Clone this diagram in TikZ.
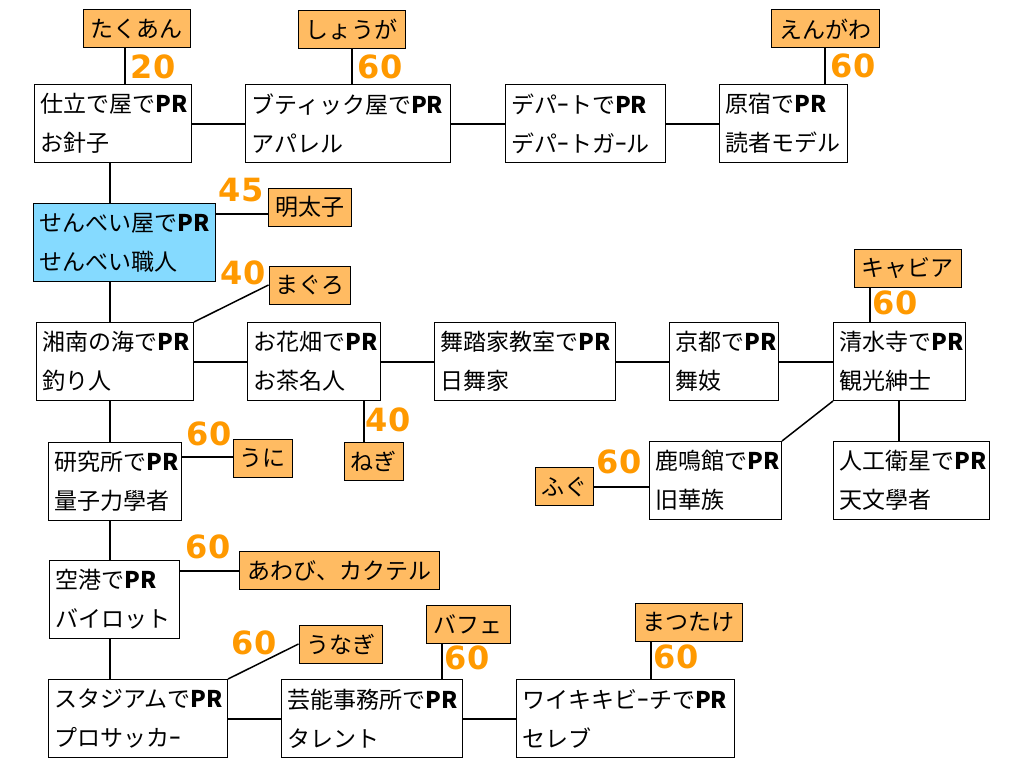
\documentclass[tikz,border=0pt]{standalone}
\usepackage{fontspec}
\setmainfont{Noto Sans CJK JP}
\newfontfamily\numfont{DejaVu Sans}
\usetikzlibrary{positioning}
\definecolor{foodorange}{RGB}{255,187,98}
\definecolor{numorange}{RGB}{255,153,0}
\definecolor{selfblue}{RGB}{133,218,255}
\newcommand\prmark{\textbf{PR}}

\begin{document}
\begin{tikzpicture}[x=1pt, y=-1pt, every node/.style={font=\fontsize{23}{39}\selectfont},
    job/.style={draw,line width=1pt,fill=white,anchor=north west,align=left,inner xsep=6pt,minimum height=78pt,text width=#1},
    food/.style={draw,line width=1pt,fill=foodorange,minimum height=38pt,minimum width=#1,inner xsep=6pt},
    num/.style={text=numorange,font=\numfont\bfseries\fontsize{32}{32}\selectfont},
    link/.style={line width=2pt}]
    \useasboundingbox (0,0) rectangle (1024,768);
    \node[job=145pt] (shitate) at (34,84) {仕立で屋で\prmark\\お針子};
    \node[job=193pt] (boutique) at (245,84) {ブティック屋で\prmark\\アパレル};
    \node[job=148pt] (depart) at (505,84) {デパｰトで\prmark\\デパｰトガｰル};
    \node[job=116pt] (harajuku) at (719,84) {原宿で\prmark\\読者モデル};
    \node[job=170pt,fill=selfblue] (senbei) at (33,203) {せんべい屋で\prmark\\せんべい職人};
    \node[job=145pt] (shonan) at (36,322) {湘南の海で\prmark\\釣り人};
    \node[job=121pt] (hanabatake) at (247,322) {お花畑で\prmark\\お茶名人};
    \node[job=169pt] (butoka) at (434,322) {舞踏家教室で\prmark\\日舞家};
    \node[job=97pt] (kyoto) at (669,322) {京都で\prmark\\舞妓};
    \node[job=120pt] (kiyomizu) at (833,322) {清水寺で\prmark\\観光紳士};
    \node[job=120pt] (rokumei) at (649,441) {鹿鳴館で\prmark\\旧華族};
    \node[job=144pt] (eisei) at (833,441) {人工衛星で\prmark\\天文學者};
    \node[job=121pt] (kenkyu) at (48,442) {研究所で\prmark\\量子力學者};
    \node[job=118pt] (kuko) at (49,560) {空港で\prmark\\バイロット};
    \node[job=167pt] (stadium) at (48,679) {スタジアムで\prmark\\プロサッカｰ};
    \node[job=169pt] (geino) at (281,679) {芸能事務所で\prmark\\タレント};
    \node[job=206pt] (waikiki) at (516,679) {ワイキキビｰチで\prmark\\セレブ};

    \node[food=107pt] (takuan) at (136.5,29) {たくあん};
    \node[food=107pt] (shoga) at (351.5,30) {しょうが};
    \node[food=108pt] (engawa) at (825,29) {えんがわ};
    \node[food=83pt] (mentaiko) at (309.5,207) {明太子};
    \node[food=81pt] (maguro) at (309.5,285) {まぐろ};
    \node[food=107pt] (caviar) at (907.5,268) {キャビア};
    \node[food=59pt] (uni) at (262.5,458) {うに};
    \node[food=59pt] (negi) at (373.5,461.5) {ねぎ};
    \node[food=58pt] (fugu) at (564,486.5) {ふぐ};
    \node[food=200pt] (awabi) at (339,570.5) {あわび、カクテル};
    \node[food=83pt] (unagi) at (340.5,644) {うなぎ};
    \node[food=84pt] (bafe) at (468,624) {バフェ};
    \node[food=107pt] (matsutake) at (688.5,622) {まつたけ};

    \node[num] (ntakuan) at (153,67) {20};
    \node[num] (nshoga) at (380,67) {60};
    \node[num] (nengawa) at (853,66) {60};
    \node[num] (nmentaiko) at (241,190) {45};
    \node[num] (nmaguro) at (243,273) {40};
    \node[num] (ncaviar) at (895,303) {60};
    \node[num] (nuni) at (209,434) {60};
    \node[num] (nnegi) at (388,420) {40};
    \node[num] (nfugu) at (619,462) {60};
    \node[num] (nawabi) at (208,547) {60};
    \node[num] (nunagi) at (254,643) {60};
    \node[num] (nbafe) at (467,658) {60};
    \node[num] (nmatsutake) at (676,657) {60};

    \foreach \a/\b/\x in {takuan/shitate/125,shoga/boutique/352,engawa/harajuku/825,shitate/senbei/110,senbei/shonan/110,shonan/kenkyu/110,kenkyu/kuko/110,kuko/stadium/110,hanabatake/negi/364,caviar/kiyomizu/870,kiyomizu/eisei/899,bafe/geino/442,matsutake/waikiki/651}
      \draw[link] (\a.south -| \x,0) -- (\b.north -| \x,0);
    \foreach \a/\b in {shitate/boutique,boutique/depart,depart/harajuku,shonan/hanabatake,hanabatake/butoka,butoka/kyoto,kyoto/kiyomizu,stadium/geino,geino/waikiki}
      \draw[link] (\a) -- (\b);
    \foreach \a/\b/\y in {senbei/mentaiko/214,kenkyu/uni/457,kuko/awabi/571,fugu/rokumei/487}
      \draw[link] (\a.east |- 0,\y) -- (\b.west |- 0,\y);
    \draw[link,line width=1.5pt] (shonan.north east) -- (maguro.west);
    \draw[link,line width=1.5pt] (kiyomizu.south west) -- (rokumei.north east);
    \draw[link,line width=1.5pt] (stadium.north east) -- (unagi.west);
  \end{tikzpicture}
\end{document}
